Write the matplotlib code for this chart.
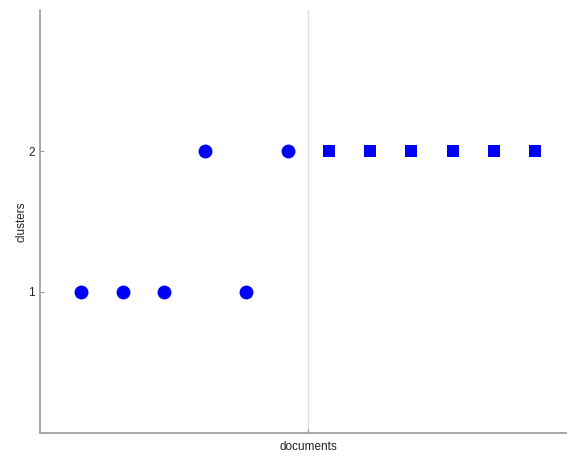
import matplotlib
matplotlib.use("Agg")
import matplotlib.pyplot as plt

plt.rcParams['font.family'] = ['Liberation Sans', 'DejaVu Sans']

docs_a = [1, 2, 3, 4, 5, 6]
clusters_a = [1, 1, 1, 2, 1, 2]
docs_b = [7, 8, 9, 10, 11, 12]
clusters_b = [2, 2, 2, 2, 2, 2]
split = 6.5

fig = plt.figure(figsize=(5.67, 4.59), dpi=100)
ax = fig.add_axes([40/567, 26/459, 527/567, 423/459])
ax.plot(docs_a, clusters_a, 'o', color='#0000ff', markersize=10, markeredgewidth=0)
ax.plot(docs_b, clusters_b, 's', color='#0000ff', markersize=8.5, markeredgewidth=0)
ax.axvline(split, color='#dddddd', linewidth=1, zorder=0)
ax.set_xlim(0, 527/41.27)
ax.set_ylim(0, 3)
ax.set_yticks([1, 2])
ax.set_xticks([split])
ax.set_xticklabels(['documents'])
ax.set_ylabel('clusters', fontsize=8.5, color='#222222', labelpad=1)
for s in ['top', 'right']:
    ax.spines[s].set_visible(False)
for s in ['left', 'bottom']:
    ax.spines[s].set_color('#999999')
    ax.spines[s].set_linewidth(1.2)
ax.tick_params(direction='in', length=3, color='#999999', labelsize=8.5, labelcolor='#222222')
ax.tick_params(axis='x', pad=6)
fig.savefig('out.png', dpi=100)
